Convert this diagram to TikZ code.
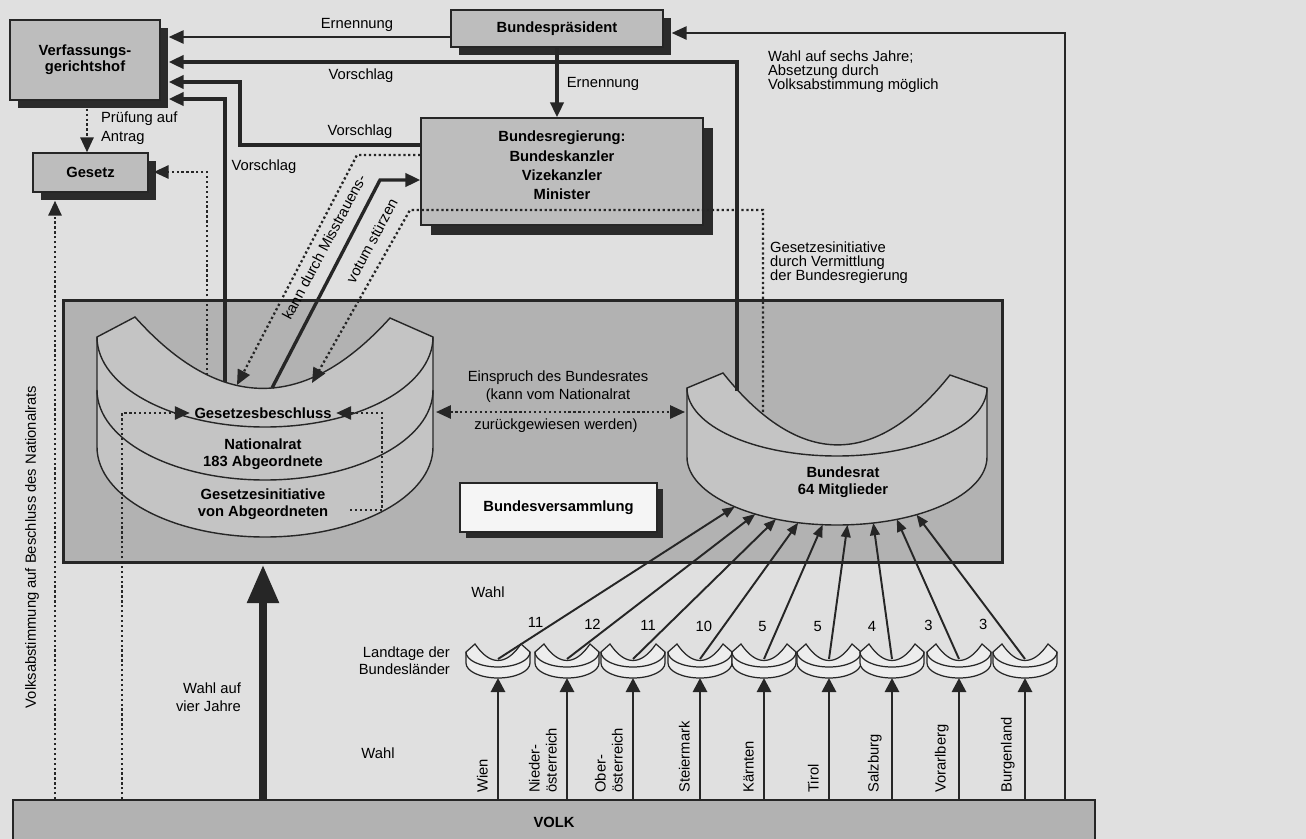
\documentclass[tikz,border=0pt]{standalone}
\usepackage{fontspec}
\setmainfont{Liberation Sans}
\usepackage{tikz}
\usetikzlibrary{arrows.meta}
\usetikzlibrary{shadows}

\definecolor{paper}{gray}{0.88}
\definecolor{ink}{gray}{0.15}
\definecolor{boxgray}{gray}{0.74}
\definecolor{framegray}{gray}{0.70}
\definecolor{chambergray}{gray}{0.77}
\definecolor{volkgray}{gray}{0.70}
\definecolor{shadowgray}{gray}{0.17}
\definecolor{landgray}{gray}{0.93}

\newcommand{\lbfont}{\fontsize{8.4}{9.6}\selectfont}

\tikzset{
    box/.style={draw=ink, line width=0.8pt, fill=boxgray, inner sep=0pt, align=center,
        font=\lbfont\bfseries,
        drop shadow={shadow xshift=#1, shadow yshift=-#1, fill=shadowgray, opacity=1}},
    box/.default=0.16cm,
    bvbox/.style={draw=ink, line width=1.7pt, fill=framegray, inner sep=0pt,
        minimum width=18.8cm, minimum height=5.26cm},
    volkbar/.style={draw=ink, line width=0.8pt, fill=volkgray, inner sep=0pt,
        minimum width=21.64cm, minimum height=0.9cm, font=\lbfont\bfseries},
    chamber/.style={draw=ink, line width=0.8pt, fill=chambergray},
    txt/.style={font=\lbfont, align=center, inner sep=1pt},
    bold/.style={font=\lbfont\bfseries, align=center, inner sep=2.5pt},
    land/.style={font=\lbfont, rotate=90, anchor=south west, align=left, inner sep=0pt},
    num/.style={font=\lbfont, pos=0.24, anchor=east, xshift=-6pt, inner sep=0pt},
    conn/.style={draw=ink, line width=1.9pt, ->},
    thinconn/.style={draw=ink, line width=1.2pt, ->},
    dotconn/.style={draw=ink, line width=1.3pt, dash pattern=on 1.3pt off 1.5pt, ->},
    inshadow/.style={shorten >=0.16cm},
    landarrow/.style={draw=ink, line width=1.6pt, -{Triangle[length=8pt,width=8pt]}},
    brline/.style={draw=ink, line width=1.1pt, -{Triangle[length=7pt,width=5.5pt]}},
    bigarrow/.style={draw=ink, line width=5pt, -{Triangle[length=22pt,width=17pt]}},
    landtag/.pic={
        \draw[draw=ink, line width=0.7pt, fill=landgray] (-32,-1) -- (-23,-9)
            .. controls (-8,13) and (8,13) .. (23,-9) -- (32,-1) -- (32,10)
            arc[start angle=0, end angle=180, x radius=32, y radius=15] -- cycle;
        \draw[draw=ink, line width=0.7pt] (-32,-1) arc[start angle=180, end angle=0, x radius=32, y radius=15];
        \coordinate (-top) at (0,6);
        \coordinate (-bot) at (0,25);
    }
}

\begin{document}
\begin{tikzpicture}[x=0.02cm, y=-0.02cm, >={Triangle[length=8.5pt,width=7.5pt]}]
            \fill[paper] (0,0) rectangle (1306,839);
            \useasboundingbox (0,0) rectangle (1306,839);

            \node[bvbox] (bvframe) at (533,431.5) {};
            \node[volkbar] (volk) at (554,822.5) {VOLK};

            \draw[chamber] (97,337) -- (135,317) .. controls (220,412) and (305,412) .. (390,318)
                -- (433,337) -- (433,447) arc[start angle=0, end angle=180, x radius=168, y radius=90] -- cycle;
            \draw[chamber, fill=none] (97,337) arc[start angle=180, end angle=0, x radius=168, y radius=90];
            \draw[chamber, fill=none] (97,390) arc[start angle=180, end angle=0, x radius=168, y radius=90];

            \draw[chamber] (687,388) -- (723,373) .. controls (799,468) and (875,469) .. (950,375)
                -- (987,388) -- (987,457) arc[start angle=0, end angle=180, x radius=150, y radius=68] -- cycle;
            \draw[chamber, fill=none] (687,388) arc[start angle=180, end angle=0, x radius=150, y radius=68];

            \coordinate (nr-vs) at (225,382);
            \coordinate (nr-g) at (207,375);
            \coordinate (nr-a) at (237,385);
            \coordinate (nr-b) at (272,388);
            \coordinate (nr-c) at (312,383);
            \coordinate (nr-r) at (436,412);
            \coordinate (br-l) at (685,412);
            \coordinate (br-vs) at (737,391);
            \coordinate (br-gi) at (763,412);
            \coordinate (gi-out) at (350,510);
            \path (837,457) ++(133:150 and 68) coordinate (br1);
            \path (837,457) ++(123:150 and 68) coordinate (br2);
            \path (837,457) ++(114:150 and 68) coordinate (br3);
            \path (837,457) ++(105:150 and 68) coordinate (br4);
            \path (837,457) ++(95.5:150 and 68) coordinate (br5);
            \path (837,457) ++(86:150 and 68) coordinate (br6);
            \path (837,457) ++(76:150 and 68) coordinate (br7);
            \path (837,457) ++(66.5:150 and 68) coordinate (br8);
            \path (837,457) ++(58:150 and 68) coordinate (br9);

            \node[box, minimum width=3cm, minimum height=1.6cm,
                font=\fontsize{8.4}{7.8}\selectfont\bfseries] (vfgh) at (85,60) {Verfassungs-\\gerichtshof};
            \node[box, minimum width=2.3cm, minimum height=0.78cm] (gesetz) at (90.5,172.5) {Gesetz};
            \node[box, minimum width=4.24cm, minimum height=0.74cm] (bpraes) at (557,28.5) {Bundespräsident};
            \node[box=0.2cm, minimum width=5.64cm, minimum height=2.14cm, text depth=0.24cm,
                font=\fontsize{8.4}{11}\selectfont\bfseries] (breg) at (562,171.5)
                {Bundesregierung:\\Bundeskanzler\\Vizekanzler\\Minister};
            \node[box=0.12cm, fill=gray!8, minimum width=3.94cm, minimum height=0.98cm] (bvers) at (558.5,507.5) {Bundesversammlung};

            \node[bold] (gb) at (263,413) {Gesetzesbeschluss};
            \node[bold] (nr) at (263,454) {Nationalrat\\183 Abgeordnete};
            \node[bold] (gi) at (263,504) {Gesetzesinitiative\\von Abgeordneten};
            \node[bold] (br) at (843,482) {Bundesrat\\64 Mitglieder};

            \pic (wien) at (498,653) {landtag};
            \pic (noe) at (567,653) {landtag};
            \pic (ooe) at (633,653) {landtag};
            \pic (stmk) at (700,653) {landtag};
            \pic (ktn) at (764,653) {landtag};
            \pic (tirol) at (829,653) {landtag};
            \pic (sbg) at (892,653) {landtag};
            \pic (vbg) at (959,653) {landtag};
            \pic (bgld) at (1025,653) {landtag};

            \draw[thinconn, inshadow] (bpraes.west |- 0,37) -- (vfgh.east |- 0,37);
            \draw[conn, inshadow] (br-vs) |- (vfgh.east |- 0,62);
            \draw[conn, inshadow] (breg.west |- 0,145) -| (240,82) -- (vfgh.east |- 0,82);
            \draw[conn, inshadow] (nr-vs) |- (vfgh.east |- 0,99);
            \draw[conn] (bpraes.south) -- (bpraes.south |- breg.north);
            \draw[thinconn, inshadow] (volk.north -| 1065,0) |- (bpraes.east |- 0,33);
            \draw[dotconn, shorten <=0.16cm] (vfgh.south -| 87,0) -- (gesetz.north -| 87,0);
            \draw[dotconn, shorten >=0.1cm] (nr-g) |- (gesetz.east |- 0,172);
            \draw[dotconn, inshadow] (volk.north -| 55,0) -- (gesetz.south -| 55,0);
            \draw[dotconn] (volk.north -| 122,0) |- (gb.west);
            \draw[dotconn] (gi-out) -- (382,510) |- (gb.east);
            \draw[dotconn, <->] (nr-r) -- (br-l);
            \draw[dotconn] (breg.west |- 0,155) -- (357,155) -- (nr-a);
            \draw[conn] (nr-b) -- (380,180) -- (breg.west |- 0,180);
            \draw[dotconn] (br-gi) |- (410,210) -- (nr-c);
            \draw[bigarrow] (volk.north -| 263,0) -- (bvframe.south -| 263,0);

            \draw[landarrow] (volk.north -| wien-bot) -- (wien-bot);
            \draw[landarrow] (volk.north -| noe-bot) -- (noe-bot);
            \draw[landarrow] (volk.north -| ooe-bot) -- (ooe-bot);
            \draw[landarrow] (volk.north -| stmk-bot) -- (stmk-bot);
            \draw[landarrow] (volk.north -| ktn-bot) -- (ktn-bot);
            \draw[landarrow] (volk.north -| tirol-bot) -- (tirol-bot);
            \draw[landarrow] (volk.north -| sbg-bot) -- (sbg-bot);
            \draw[landarrow] (volk.north -| vbg-bot) -- (vbg-bot);
            \draw[landarrow] (volk.north -| bgld-bot) -- (bgld-bot);

            \draw[brline] (wien-top) -- (br1) node[num] {11};
            \draw[brline] (noe-top) -- (br2) node[num] {12};
            \draw[brline] (ooe-top) -- (br3) node[num] {11};
            \draw[brline] (stmk-top) -- (br4) node[num] {10};
            \draw[brline] (ktn-top) -- (br5) node[num] {5};
            \draw[brline] (tirol-top) -- (br6) node[num] {5};
            \draw[brline] (sbg-top) -- (br7) node[num] {4};
            \draw[brline] (vbg-top) -- (br8) node[num] {3};
            \draw[brline] (bgld-top) -- (br9) node[num] {3};

            \node[land] (lwien) at (488,793) {Wien};
            \node[land] (lnoe) at (557,793) {Nieder-\\österreich};
            \node[land] (looe) at (623,793) {Ober-\\österreich};
            \node[land] (lstmk) at (690,793) {Steiermark};
            \node[land] (lktn) at (754,793) {Kärnten};
            \node[land] (ltirol) at (819,793) {Tirol};
            \node[land] (lsbg) at (882,793) {Salzburg};
            \node[land] (lvbg) at (949,793) {Vorarlberg};
            \node[land] (lbgld) at (1015,793) {Burgenland};

            \node[txt] (ern1) at (357,25) {Ernennung};
            \node[txt] (vor1) at (361,76) {Vorschlag};
            \node[txt] (vor2) at (360,132) {Vorschlag};
            \node[txt] (vor3) at (264,167) {Vorschlag};
            \node[txt, anchor=west, align=left, font=\fontsize{8.4}{11}\selectfont] (pruef) at (99,128) {Prüfung auf\\Antrag};
            \node[txt] (ern2) at (603,84) {Ernennung};
            \node[txt, anchor=west, align=left, font=\fontsize{8.4}{8}\selectfont] (wahlbp) at (766,72)
                {Wahl auf sechs Jahre;\\Absetzung durch\\Volksabstimmung möglich};
            \node[txt, anchor=west, align=left, font=\fontsize{8.4}{8}\selectfont] (gesinit) at (768,263)
                {Gesetzesinitiative\\durch Vermittlung\\der Bundesregierung};
            \node[txt, rotate=62] (misstr1) at (324,247) {kann durch Misstrauens-};
            \node[txt, rotate=62] (misstr2) at (372,241) {votum stürzen};
            \node[txt, font=\fontsize{8.4}{10.2}\selectfont] (einspr1) at (558,387) {Einspruch des Bundesrates\\(kann vom Nationalrat};
            \node[txt] (einspr2) at (556,426) {zurückgewiesen werden)};
            \node[txt, rotate=90] (vabst) at (32,547) {Volksabstimmung auf Beschluss des Nationalrats};
            \node[txt] (wahl1) at (488,592) {Wahl};
            \node[txt, anchor=east, align=right] (landtage) at (452,661) {Landtage der\\Bundesländer};
            \node[txt] (wahl2) at (378,753) {Wahl};
            \node[txt, anchor=east, align=right, font=\fontsize{8.4}{10.2}\selectfont] (wahl4) at (243,697) {Wahl auf\\vier Jahre};
\end{tikzpicture}
\end{document}
